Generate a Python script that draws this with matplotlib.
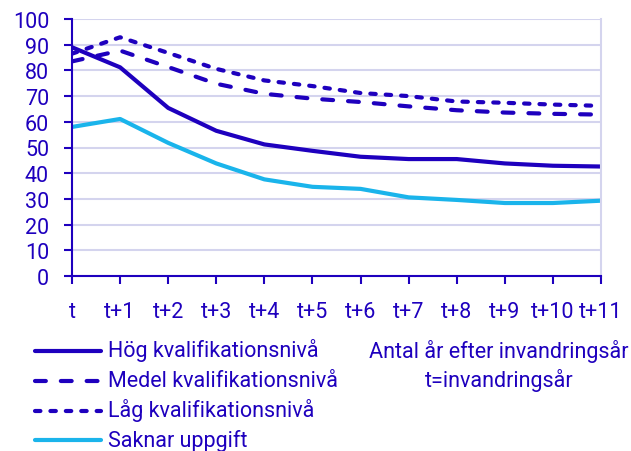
import matplotlib.pyplot as plt
from matplotlib.lines import Line2D

plt.rcParams['font.family'] = ['Roboto', 'DejaVu Sans']

years = ['t', 't+1', 't+2', 't+3', 't+4', 't+5', 't+6', 't+7', 't+8', 't+9', 't+10', 't+11']
hog = [89.0, 81.2, 65.4, 56.5, 51.2, 48.7, 46.4, 45.5, 45.5, 43.8, 42.9, 42.6]
medel = [83.5, 87.7, 81.3, 74.8, 70.9, 69.0, 67.7, 66.0, 64.5, 63.6, 63.1, 62.8]
lag = [86.5, 92.9, 86.8, 80.6, 76.1, 73.9, 71.2, 70.0, 67.9, 67.4, 66.7, 66.2]
saknar = [58.0, 61.1, 51.8, 43.8, 37.6, 34.7, 33.9, 30.6, 29.6, 28.4, 28.4, 29.3]

dark = '#1E00BE'
light = '#1AB4EB'
grid = '#D4D4EE'
fs = 15.5
W, H = 631, 452

fig = plt.figure(figsize=(W / 100, H / 100), dpi=100)
ax = fig.add_axes([72 / W, 1 - 277 / H, 529 / W, 257 / H])

x = range(len(years))
ax.plot(x, hog, color=dark, lw=3, solid_capstyle='round', label='Hög kvalifikationsnivå')
ax.plot(x, medel, color=dark, lw=3, dashes=(2.6, 3.6), dash_capstyle='round',
        label='Medel kvalifikationsnivå')
ax.plot(x, lag, color=dark, lw=3, dashes=(1.3, 2.4), dash_capstyle='round',
        label='Låg kvalifikationsnivå')
ax.plot(x, saknar, color=light, lw=3, solid_capstyle='round', label='Saknar uppgift')

ax.set_xlim(0, len(years) - 1)
ax.set_ylim(0, 100)
ax.set_yticks(range(0, 101, 10))
ax.set_xticks(list(x))
ax.set_xticklabels(years)
ax.grid(axis='y', color=grid, lw=1.5)
ax.set_axisbelow(True)

ax.spines['top'].set_visible(False)
ax.spines['right'].set_color(grid)
ax.spines['right'].set_linewidth(1.5)
ax.spines['left'].set_color(dark)
ax.spines['bottom'].set_color(dark)
ax.spines['left'].set_linewidth(1.5)
ax.spines['bottom'].set_linewidth(1.5)
ax.tick_params(colors=dark, labelsize=fs, length=5.5, width=1.5)
ax.tick_params(axis='x', pad=12.5)
ax.tick_params(axis='y', pad=11)

# legend drawn by hand, below the plot
for i, line in enumerate(ax.get_lines()):
    y = 1 - (352 + i * 29.8) / H
    h = Line2D([0, 1], [0, 0])
    h.update_from(line)
    h.set_transform(fig.transFigure)
    h.set_clip_on(False)
    h.set_data([35 / W, 101 / W], [y, y])
    fig.add_artist(h)
    fig.text(108 / W, y - 5.5 / H, line.get_label(), color=dark, fontsize=fs,
             ha='left', va='baseline')

fig.text(499 / W, 1 - 352 / H, 'Antal år efter invandringsår', color=dark,
         fontsize=fs, ha='center', va='center')
fig.text(499 / W, 1 - 381 / H, 't=invandringsår', color=dark,
         fontsize=fs, ha='center', va='center')

fig.savefig('out.png', dpi=100)
